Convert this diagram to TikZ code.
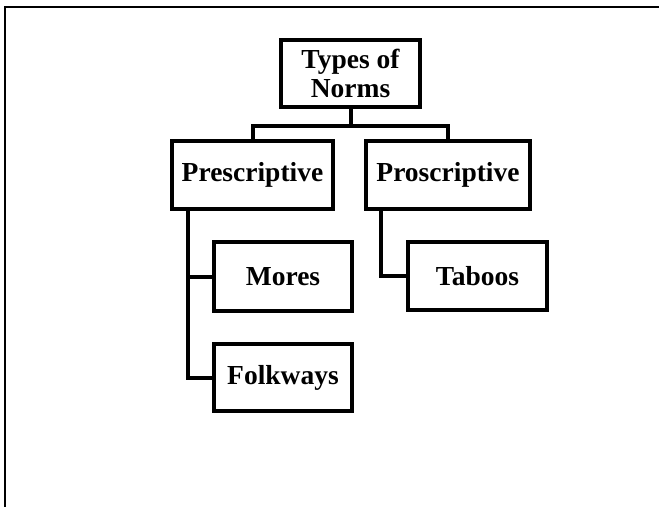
\documentclass[tikz,border=0pt]{standalone}
\usepackage{fontspec}
\setmainfont{Liberation Serif}
\usepackage{tikz}
\usetikzlibrary{positioning}

\begin{document}
\begin{tikzpicture}[x=1pt, y=-1pt,
    normbox/.style={draw=black, line width=4pt, fill=white, align=center,
        inner sep=0pt, font=\fontsize{27.5}{29}\selectfont\bfseries},
    link/.style={draw=black, line width=4pt}]
            \useasboundingbox (0,0) rectangle (659,507);
            % Page frame
            \draw[line width=1.8pt] (659,7) -- (5,7) -- (5,507);
            
            % Root
            \node[normbox, minimum width=139pt, minimum height=67pt] (types) at (350.5,73.5) {Types of\\Norms};
            
            % Second level
            \node[normbox, minimum width=161pt, minimum height=68pt] (pres) at (252.5,175) {Prescriptive};
            \node[normbox, minimum width=164pt, minimum height=68pt] (pros) at (448,175) {Proscriptive};
            
            % Third level
            \node[normbox, minimum width=138pt, minimum height=69pt] (mores) at (283,276.5) {Mores};
            \node[normbox, minimum width=138pt, minimum height=67pt] (folk) at (283,377.5) {Folkways};
            \node[normbox, minimum width=139pt, minimum height=68pt] (taboos) at (477.5,276) {Taboos};
            
            % Connecting lines
            \draw[link] (types.south) -- ++(0,17) -| (pres.north);
            \draw[link] (types.south) -- ++(0,17) -| (pros.north);
            \draw[link] ([xshift=-64.5pt]pres.south) |- (mores.west);
            \draw[link] ([xshift=-64.5pt]pres.south) |- (folk.west);
            \draw[link] ([xshift=-67pt]pros.south) |- (taboos.west);
        \end{tikzpicture}
\end{document}
